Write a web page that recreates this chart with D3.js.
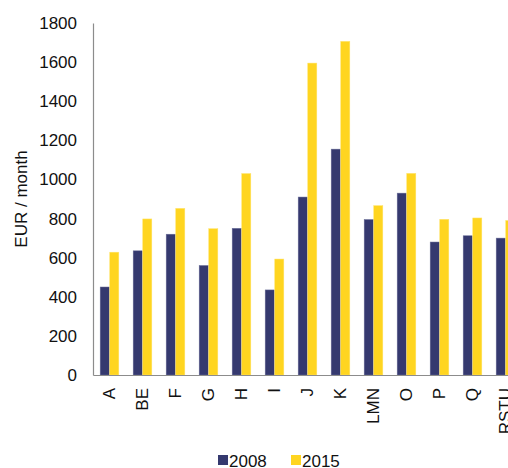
<!DOCTYPE html>
<html><head><meta charset="utf-8">
<script src="https://cdn.jsdelivr.net/npm/d3@7"></script>
<style>
html,body{margin:0;padding:0;background:#fff;}
svg{display:block;font-family:"Liberation Sans",Arial,sans-serif;}
</style></head>
<body>
<svg id="chart" width="508" height="468"></svg>
<script>
const categories = ["A","BE","F","G","H","I","J","K","LMN","O","P","Q","RSTU"];
const seriesNames = ["2008","2015"];
const values2008 = [450,635,720,560,750,435,910,1155,795,930,680,712,700];
const values2015 = [628,798,852,748,1030,593,1595,1706,866,1031,796,803,790];
const yTicks = [0,200,400,600,800,1000,1200,1400,1600,1800];
const colors = ["#35396f","#ffd520"];
const strokes = ["#6b6e98","#ffe36a"];

const svg = d3.select("#chart");
const y = d3.scaleLinear().domain([0,1800]).range([375,23]);
const x0 = d3.scaleBand().domain(categories).range([93,522]).paddingInner(0.42).paddingOuter(0.21);
const x1 = d3.scaleBand().domain(seriesNames).range([0,x0.bandwidth()]);
const color = d3.scaleOrdinal().domain(seriesNames).range(colors);
const strokeC = d3.scaleOrdinal().domain(seriesNames).range(strokes);

const data = categories.map((c,i)=>({cat:c, vals:[{s:"2008",v:values2008[i]},{s:"2015",v:values2015[i]}]}));

const groups = svg.append("g").selectAll("g").data(data).join("g")
  .attr("transform", d=>`translate(${x0(d.cat)},0)`);
groups.selectAll("rect").data(d=>d.vals).join("rect")
  .attr("x", d=>x1(d.s)+0.25)
  .attr("width", x1.bandwidth()-0.5)
  .attr("y", d=>y(d.v))
  .attr("height", d=>y(0)-y(d.v))
  .attr("fill", d=>color(d.s))
  .attr("stroke", d=>strokeC(d.s))
  .attr("stroke-width",0.5);

// y axis
const yAxis = d3.axisLeft(y).tickValues(yTicks).tickSize(0).tickPadding(16).tickFormat(d3.format("d"));
const gy = svg.append("g").attr("transform","translate(93,0)").call(yAxis);
gy.select(".domain").attr("stroke","#8c8c8c").attr("stroke-width",1.2);
gy.selectAll("text").attr("font-size","17px").attr("fill","#111").attr("font-family","Liberation Sans, Arial, sans-serif");

// x axis
const xAxis = d3.axisBottom(x0).tickSize(0).tickPadding(0);
const gx = svg.append("g").attr("transform","translate(0,375)").call(xAxis);
gx.select(".domain").attr("stroke","#8c8c8c").attr("stroke-width",1.2);
gx.selectAll("text")
  .attr("font-size","17px").attr("fill","#111").attr("font-family","Liberation Sans, Arial, sans-serif")
  .attr("text-anchor","end")
  .attr("transform","translate(0,13) rotate(-90)")
  .attr("x",0).attr("y",0).attr("dy","0.35em");

// y label
svg.append("text")
  .attr("transform","translate(27,199) rotate(-90)")
  .attr("text-anchor","middle")
  .attr("font-size","17px").attr("fill","#111")
  .text("EUR / month");

// legend
const legend = svg.append("g");
const lx = [218,291];
seriesNames.forEach((s,i)=>{
  legend.append("rect").attr("x",lx[i]).attr("y",455).attr("width",10).attr("height",10).attr("fill",color(s));
  legend.append("text").attr("x",lx[i]+11).attr("y",466.5).attr("font-size","17px").attr("fill","#111").text(s);
});
</script>
</body></html>
